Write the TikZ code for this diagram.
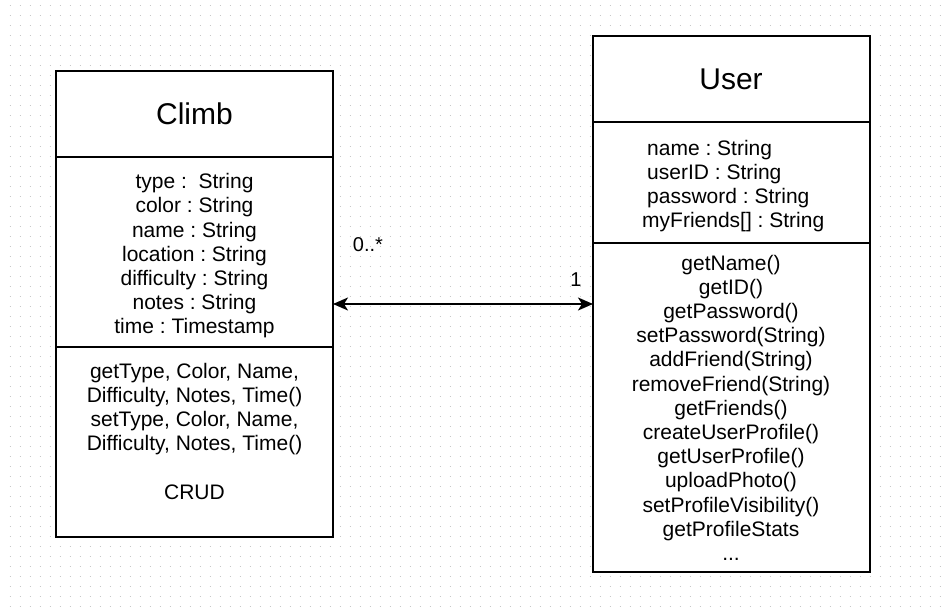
\documentclass[tikz,border=0pt]{standalone}
\usepackage{fontspec}
\setmainfont{Liberation Sans}
\usetikzlibrary{arrows.meta}
\definecolor{gridc}{HTML}{C8C8C8}
\frenchspacing
\begin{document}
\begin{tikzpicture}[x=1pt,y=-1pt,
  box/.style={draw=black, fill=white, line width=2pt, inner sep=0pt, outer sep=0pt, anchor=north west},
  title/.style={font=\fontsize{30}{36}\selectfont, inner sep=0pt},
  body/.style={font=\fontsize{21}{24.2}\selectfont, align=center, inner sep=0pt},
  mult/.style={font=\fontsize{20}{24}\selectfont, inner sep=0pt},
  assoc/.style={line width=2pt, {Stealth[length=15pt,width=13pt,inset=4pt]}-{Stealth[length=15pt,width=13pt,inset=4pt]}},
  griddots/.style={draw=gridc, line width=1pt, dash pattern=on 1pt off 9pt}
]
\useasboundingbox (0,0) rectangle (944,615);
\fill[white] (0,0) rectangle (944,615);
% dotted background grid
\foreach \y in {6,16,...,606} \draw[griddots] (9.5,\y) -- (944,\y);

% Climb class
\node[box, minimum width=277pt, minimum height=86pt] (climbhead) at (56,71) {};
\node[box, minimum width=277pt, minimum height=190pt] (climbattr) at (56,157) {};
\node[box, minimum width=277pt, minimum height=189.5pt] (climbmeth) at (56,347) {};
\node[title] (climbname) at (194.5,114) {Climb};
\node[body] (climbattrtext) at (194.5,256.5) {\strut type :\ \ String\\\strut color : String\\\strut name : String\\\strut location : String\\\strut difficulty : String\\\strut notes : String\\\strut time : Timestamp};
\node[body] (climbmethtext) at (194.5,434) {\strut getType, Color, Name,\\\strut Difficulty, Notes, Time()\\\strut setType, Color, Name,\\\strut Difficulty, Notes, Time()\\\strut\\\strut CRUD};

% User class
\node[box, minimum width=276.5pt, minimum height=86pt] (userhead) at (593,36) {};
\node[box, minimum width=276.5pt, minimum height=121pt] (userattr) at (593,122) {};
\node[box, minimum width=276.5pt, minimum height=328.5pt] (usermeth) at (593,243) {};
\node[title] (username) at (731,79) {User};
\node[body, align=left, anchor=west] (userattrtext) at (647,186.5) {\strut name : String\\\strut userID : String\\\strut password : String\\\strut\hspace*{-5pt}myFriends[] : String};
\node[body] (usermethtext) at (731,410.5) {\strut getName()\\\strut getID()\\\strut getPassword()\\\strut setPassword(String)\\\strut addFriend(String)\\\strut removeFriend(String)\\\strut getFriends()\\\strut createUserProfile()\\\strut getUserProfile()\\\strut uploadPhoto()\\\strut setProfileVisibility()\\\strut getProfileStats\\\strut ...};

% association
\coordinate (assocy) at (0,304);
\draw[assoc] (climbattr.east |- assocy) -- (usermeth.west |- assocy);
\node[mult] (multclimb) at (368,245) {0..*};
\node[mult] (multuser) at (576,280) {1};
\end{tikzpicture}
\end{document}
